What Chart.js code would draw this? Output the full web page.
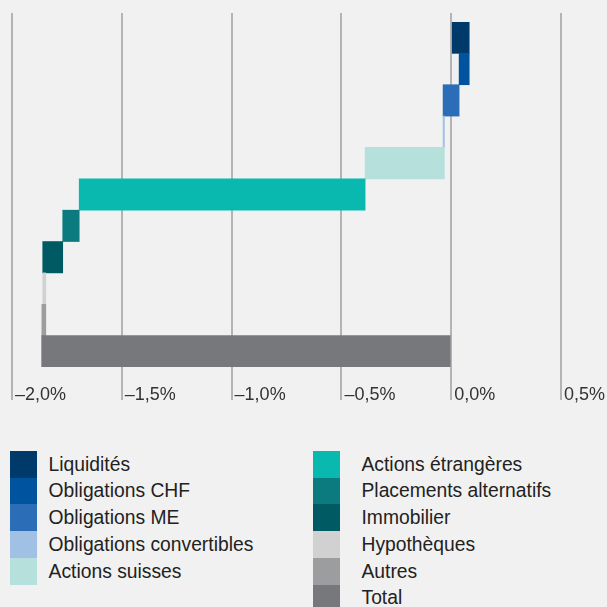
<!DOCTYPE html>
<html><head><meta charset="utf-8">
<script src="https://cdn.jsdelivr.net/npm/chart.js@4"></script>
<style>
html,body{margin:0;padding:0;background:#f1f1f1;}
body{width:607px;height:607px;position:relative;overflow:hidden;font-family:"Liberation Sans",Arial,sans-serif;}
#c{position:absolute;left:0;top:0;}
.sw{position:absolute;width:27px;height:27px;}
.lbl{position:absolute;font-size:19.3px;color:#222;line-height:26.7px;height:26.7px;white-space:nowrap;}
</style></head><body>
<canvas id="c" width="607" height="440"></canvas>
<div id="legend"></div>
<script>
const categories = ["Liquidités","Obligations CHF","Obligations ME","Obligations convertibles","Actions suisses","Actions étrangères","Placements alternatifs","Immobilier","Hypothèques","Autres","Total"];
// contribution of each component (percentage points)
const contributions = [0.082,-0.046,-0.073,0.006,-0.361,-1.302,-0.075,-0.091,0.014,-0.018];
const totalValue = -1.865;
const xTicks = [-2.0,-1.5,-1.0,-0.5,0.0,0.5];
const colors = ["#003a6b","#00549f","#2c6db8","#a0c0e4","#b5e0db","#09b9b0","#0c7b80","#005a64","#d0d1d0","#9c9d9e","#77787b"];

// floating-bar table built from the contributions
const floating = [];
let run = 0;
contributions.forEach(c => { floating.push([run, run + c]); run += c; });
floating.push([0, totalValue]);

const gridColor = "#b4b4b4";
const fmt = v => (v < -1e-9 ? "\u2013" : "") + Math.abs(v).toFixed(1).replace(".", ",") + "%";

const gridTop = {
  id: "gridTop",
  beforeDatasetsDraw(chart) {
    const {ctx, chartArea, scales: {x}} = chart;
    ctx.save();
    ctx.strokeStyle = gridColor; ctx.lineWidth = 2;
    x.ticks.forEach(t => {
      const px = Math.round(x.getPixelForValue(t.value));
      ctx.beginPath(); ctx.moveTo(px, 13); ctx.lineTo(px, chartArea.top); ctx.stroke();
    });
    ctx.restore();
  }
};

new Chart(document.getElementById("c"), {
  type: "bar",
  data: {
    labels: categories,
    datasets: [{
      data: floating,
      backgroundColor: colors,
      borderWidth: 0,
      barPercentage: 1,
      categoryPercentage: 1
    }]
  },
  options: {
    indexAxis: "y",
    responsive: false,
    animation: false,
    devicePixelRatio: 1,
    layout: {padding: {left: 12, right: 46, top: 22, bottom: 33}},
    plugins: {legend: {display: false}, tooltip: {enabled: false}},
    scales: {
      y: {display: false, offset: true},
      x: {
        type: "linear", min: -2, max: 0.5,
        afterBuildTicks: s => { s.ticks = xTicks.map(v => ({value: v})); },
        afterFit: s => { s.height = 40; },
        grid: {color: gridColor, lineWidth: 2, tickLength: 33, tickColor: gridColor, drawTicks: true},
        border: {display: false},
        ticks: {align: "start", labelOffset: 3, padding: -16, color: "#333",
                font: {family: "'Liberation Sans', Arial, sans-serif", size: 18},
                callback: v => fmt(v)}
      }
    }
  },
  plugins: [gridTop]
});

// HTML legend in two columns
const leg = document.getElementById("legend");
categories.forEach((name, i) => {
  const col = i < 5 ? 0 : 1;
  const row = col === 0 ? i : i - 5;
  const top = 451 + row * 26.7;
  const sw = document.createElement("div");
  sw.className = "sw";
  sw.style.left = (col === 0 ? 10 : 313) + "px";
  sw.style.top = top + "px";
  sw.style.background = colors[i];
  leg.appendChild(sw);
  const lb = document.createElement("div");
  lb.className = "lbl";
  lb.style.left = (col === 0 ? 48.6 : 361.5) + "px";
  lb.style.top = (top + 0.7) + "px";
  lb.textContent = name;
  leg.appendChild(lb);
});
</script>
</body></html>
